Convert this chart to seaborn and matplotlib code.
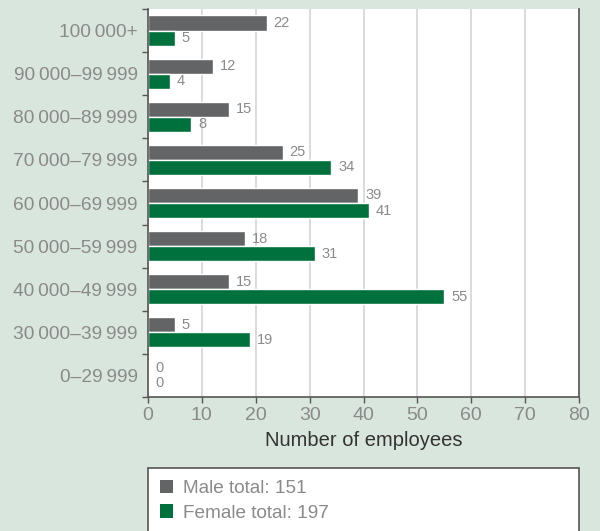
import matplotlib
matplotlib.use("Agg")
import matplotlib.pyplot as plt
import seaborn as sns
import pandas as pd
import numpy as np
from matplotlib.patches import Rectangle, Patch

categories = ["100\u2009000+", "90\u2009000\u201399\u2009999", "80\u2009000\u201389\u2009999",
              "70\u2009000\u201379\u2009999", "60\u2009000\u201369\u2009999", "50\u2009000\u201359\u2009999",
              "40\u2009000\u201349\u2009999", "30\u2009000\u201339\u2009999", "0\u201329\u2009999"]
male = [22, 12, 15, 25, 39, 18, 15, 5, 0]
female = [5, 4, 8, 34, 41, 31, 55, 19, 0]
x_ticks = [0, 10, 20, 30, 40, 50, 60, 70, 80]

BG = "#d9e6dd"
GREY_BAR = "#636466"
GREEN_BAR = "#00703c"
TXT = "#8a8a8a"
SPINE = "#555555"

sns.set_theme(style="white")
plt.rcParams["font.family"] = ["Liberation Sans", "DejaVu Sans"]

df = pd.DataFrame({
    "Band": categories * 2,
    "Count": male + female,
    "Gender": ["Male"] * len(male) + ["Female"] * len(female),
})

fig = plt.figure(figsize=(6, 5.31), dpi=100, facecolor=BG)
ax = fig.add_axes([148/600, 1-397/531, (579-148)/600, (397-9)/531])
ax.set_facecolor("white")

sns.barplot(data=df, y="Band", x="Count", hue="Gender", order=categories,
            palette={"Male": GREY_BAR, "Female": GREEN_BAR}, width=0.7,
            orient="h", ax=ax, legend=False, saturation=1)

for cont in ax.containers:
    ax.bar_label(cont, padding=5, color=TXT, fontsize=10.5)

ax.set_xlim(0, 80)
ax.set_ylim(len(categories) - 0.5, -0.5)
ax.set_xticks(x_ticks)
ax.set_xticklabels([str(v) for v in x_ticks], color=TXT, fontsize=14)
ax.tick_params(axis="x", direction="out", length=4, width=1, color=SPINE, pad=3, bottom=True)
ax.tick_params(axis="y", which="major", length=0, labelsize=13.8, labelcolor=TXT, pad=7.5)
ax.set_yticks(np.arange(-0.5, len(categories), 1), minor=True)
ax.tick_params(axis="y", which="minor", direction="out", length=4, width=1, color=SPINE, left=True)
ax.set_ylabel("")
ax.set_xlabel("Number of employees", fontsize=14.5, color="#333333", labelpad=5)
ax.grid(axis="x", color="#d8d8d8", linewidth=1.3)
ax.set_axisbelow(True)

for s in ["left", "right", "bottom"]:
    ax.spines[s].set_visible(True)
    ax.spines[s].set_color(SPINE)
    ax.spines[s].set_linewidth(1.2)
ax.spines["top"].set_visible(False)

# legend box
rect = Rectangle((148/600, -0.05), (579-148)/600, (1-468/531) + 0.05,
                 transform=fig.transFigure, facecolor="white", edgecolor="#555555",
                 linewidth=1.2, clip_on=False)
fig.patches.append(rect)
handles = [Patch(facecolor=GREY_BAR, edgecolor="none"),
           Patch(facecolor=GREEN_BAR, edgecolor="none")]
labels = [f"Male total: {sum(male)}", f"Female total: {sum(female)}"]
leg = fig.legend(handles, labels, loc="upper left",
                 bbox_to_anchor=(152/600, 1-472/531), frameon=False,
                 fontsize=13.7, handlelength=0.72, handleheight=0.72,
                 handletextpad=0.5, labelspacing=0.38, borderaxespad=0)
for t in leg.get_texts():
    t.set_color(TXT)

fig.savefig("out.png", dpi=100, facecolor=BG)
